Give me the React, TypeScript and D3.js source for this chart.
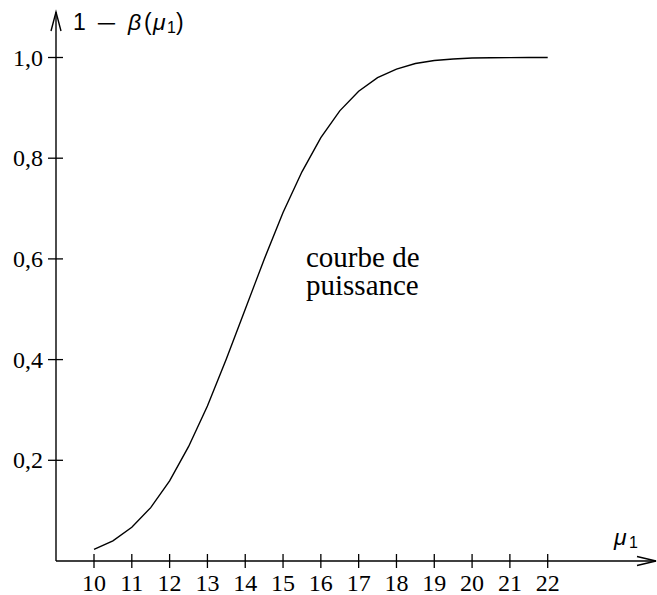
import React from "react";
import * as d3 from "d3";

// power curve 1 - beta(mu1), every 0.5
const mu = [
  10, 10.5, 11, 11.5, 12, 12.5, 13, 13.5, 14, 14.5, 15, 15.5, 16, 16.5, 17,
  17.5, 18, 18.5, 19, 19.5, 20, 20.5, 21, 21.5, 22,
];
const power = [
  0.023, 0.04, 0.067, 0.106, 0.159, 0.227, 0.308, 0.401, 0.5, 0.599, 0.692,
  0.773, 0.841, 0.894, 0.933, 0.96, 0.977, 0.988, 0.994, 0.997, 0.999, 0.9994,
  0.9998, 1.0, 1.0,
];
const xTicks = [10, 11, 12, 13, 14, 15, 16, 17, 18, 19, 20, 21, 22];
const yTicks = [0.2, 0.4, 0.6, 0.8, 1.0];
const yTickLabels = ["0,2", "0,4", "0,6", "0,8", "1,0"];

const W = 657;
const H = 595;

const App = () => {
  const originX = 56;
  const originY = 561;

  const x = d3.scaleLinear().domain([10, 22]).range([94, 547.7]);
  const y = d3.scaleLinear().domain([0, 1]).range([originY, 57.5]);

  const pts: [number, number][] = mu.map((m, i) => [m, power[i]]);
  const line = d3
    .line<[number, number]>()
    .x((d) => x(d[0]))
    .y((d) => y(d[1]))
    .curve(d3.curveLinear);

  const serif = "'Liberation Serif', 'Times New Roman', serif";
  const sans = "'Liberation Sans', Arial, sans-serif";

  return (
    <svg
      width={W}
      height={H}
      style={{ position: "absolute", left: 0, top: 0, background: "#fff" }}
    >
      {/* axes */}
      <g stroke="#000" strokeWidth={1.4} fill="none">
        <line x1={originX} y1={originY} x2={originX} y2={12} />
        <line x1={originX} y1={originY} x2={656} y2={originY} />
        {/* open arrow heads */}
        <path d={`M${originX - 5},31 L${originX},12 L${originX + 5},31`} />
        <path d={`M637,${originY - 4.5} L656,${originY} L637,${originY + 4.5}`} />
      </g>

      {/* x ticks */}
      <g>
        {xTicks.map((t) => (
          <g key={t}>
            <line
              x1={x(t)}
              x2={x(t)}
              y1={originY - 7}
              y2={originY + 7}
              stroke="#000"
              strokeWidth={1.3}
            />
            <text
              x={x(t)}
              y={591}
              textAnchor="middle"
              fontFamily={serif}
              fontSize={24}
            >
              {t}
            </text>
          </g>
        ))}
      </g>

      {/* y ticks */}
      <g>
        {yTicks.map((t, i) => (
          <g key={t}>
            <line
              x1={originX - 8}
              x2={originX + 7}
              y1={y(t)}
              y2={y(t)}
              stroke="#000"
              strokeWidth={1.3}
            />
            <text
              x={43}
              y={y(t)}
              dy="0.34em"
              textAnchor="end"
              fontFamily={serif}
              fontSize={24}
            >
              {yTickLabels[i]}
            </text>
          </g>
        ))}
      </g>

      {/* curve */}
      <path d={line(pts) || ""} fill="none" stroke="#000" strokeWidth={1.4} />

      {/* y axis label: 1 - beta(mu_1) */}
      <g fontFamily={sans} fontSize={23}>
        <text x={73} y={30}>1</text>
        <text
          x={95}
          y={30}
          fontFamily="'DejaVu Sans', sans-serif"
          fontSize={20}
          textLength={23}
          lengthAdjust="spacingAndGlyphs"
        >
          {"\u2212"}
        </text>
        <text x={128} y={30} fontStyle="italic">
          {"\u03b2"}
        </text>
        <text x={144} y={30}>(</text>
        <text x={153} y={30} fontStyle="italic">
          {"\u03bc"}
        </text>
        <text x={167} y={33} fontSize={16}>1</text>
        <text x={176} y={30}>)</text>
      </g>

      {/* x axis label: mu_1 */}
      <g fontFamily={sans}>
        <text x={614} y={545} fontSize={23} fontStyle="italic">
          {"\u03bc"}
        </text>
        <text x={629} y={548} fontSize={16}>1</text>
      </g>

      {/* annotation */}
      <text fontFamily={serif} fontSize={29}>
        <tspan x={306} y={267}>courbe de</tspan>
        <tspan x={306} y={295}>puissance</tspan>
      </text>
    </svg>
  );
};

export default App;
